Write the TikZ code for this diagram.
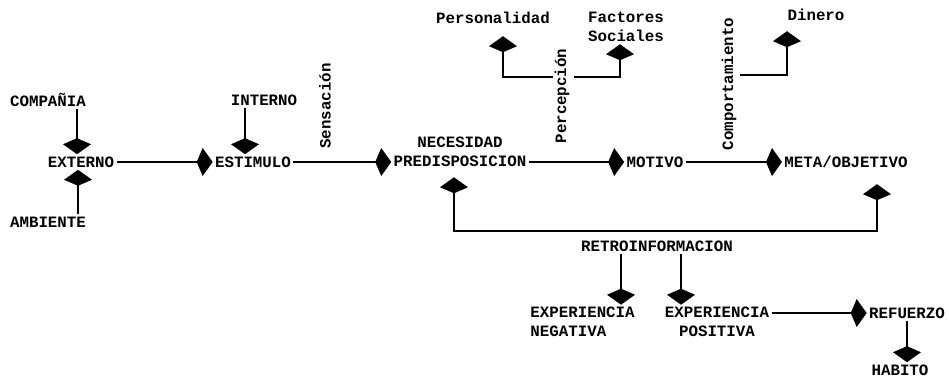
\documentclass[tikz,border=0pt]{standalone}
\usepackage{fontspec}
\newfontfamily\typefont{Liberation Mono}
\usetikzlibrary{arrows.meta,positioning}
\tikzset{
 lbl/.style={inner sep=1pt, align=center, font=\typefont\bfseries\fontsize{7.9}{9.5}\selectfont},
 vlbl/.style={lbl, rotate=90},
 arr/.style={-{Kite[length=8pt,width=14pt,inset=3pt]}, line width=1pt},
 biarr/.style={{Kite[length=8pt,width=14pt,inset=3pt]}-{Kite[length=8pt,width=14pt,inset=3pt]}, line width=1pt}
}
\begin{document}
\begin{tikzpicture}[x=0.5pt,y=-0.5pt]
\useasboundingbox (0,0) rectangle (949,380);
% nodes
\node[lbl] (comp) at (48,100) {COMPAÑIA};
\node[lbl] (ext) at (81,162) {EXTERNO};
\node[lbl] (amb) at (48,222) {AMBIENTE};
\node[lbl] (int) at (264,100) {INTERNO};
\node[lbl] (est) at (253,162) {ESTIMULO};
\node[vlbl] (sens) at (325,106) {Sensación};
\node[lbl] (nec) at (460,152) {NECESIDAD\\PREDISPOSICION};
\node[vlbl] (perc) at (562,96) {Percepción};
\node[lbl] (pers) at (493,18) {Personalidad};
\node[lbl] (fact) at (626,27) {Factores\\Sociales};
\node[lbl] (mot) at (655,162) {MOTIVO};
\node[vlbl] (compt) at (729,84) {Comportamiento};
\node[lbl] (din) at (816,15) {Dinero};
\node[lbl] (meta) at (846,162) {META/OBJETIVO};
\node[lbl] (retro) at (657,246) {RETROINFORMACION};
\node[lbl, align=left, anchor=west] (neg) at (528,322) {EXPERIENCIA\\NEGATIVA};
\node[lbl] (pos) at (717,322) {EXPERIENCIA\\POSITIVA};
\node[lbl] (ref) at (907,313) {REFUERZO};
\node[lbl] (hab) at (900,370) {HABITO};
\coordinate (pj) at (553,77);
\coordinate (fj) at (574,77);
\coordinate (dj) at (740,75);
\coordinate (fbL) at (454,231);
\coordinate (fbR) at (877,231);
% main flow
\draw[arr] ([xshift=14.5pt]comp.south) -- ([xshift=14.5pt]comp.south |- ext.north);
\draw[arr] ([xshift=15pt]amb.north) -- ([xshift=15pt]amb.north |- ext.south);
\draw[arr] (ext) -- (est);
\draw[arr] ([xshift=-9.5pt]int.south) -- ([xshift=-9.5pt]int.south |- est.north);
\draw[arr] (est.east) -- (est.east -| nec.west);
\draw[arr] (nec.east |- mot) -- (mot);
\draw[arr] (mot) -- (meta);
% influences
\draw[arr, shorten >=5pt] (pj) -| ([xshift=5pt]pers.south);
\draw[arr] (fj) -| ([xshift=-3pt]fact.south);
\draw[arr, shorten >=4pt] (dj) -| ([xshift=-14.5pt]din.south);
% feedback
\draw[biarr, shorten <=4pt, shorten >=7pt] (fbL |- nec.south) -- (fbL) -- (fbR) -- (fbR |- meta.south);
\draw[arr] ([xshift=-18pt]retro.south) -- ([xshift=-18pt]retro.south |- neg.north);
\draw[arr] ([xshift=12pt]retro.south) -- ([xshift=12pt]retro.south |- pos.north);
\draw[arr] (pos.east |- ref) -- (ref);
\draw[arr] (ref.south) -- (ref.south |- hab.north);
\end{tikzpicture}
\end{document}
